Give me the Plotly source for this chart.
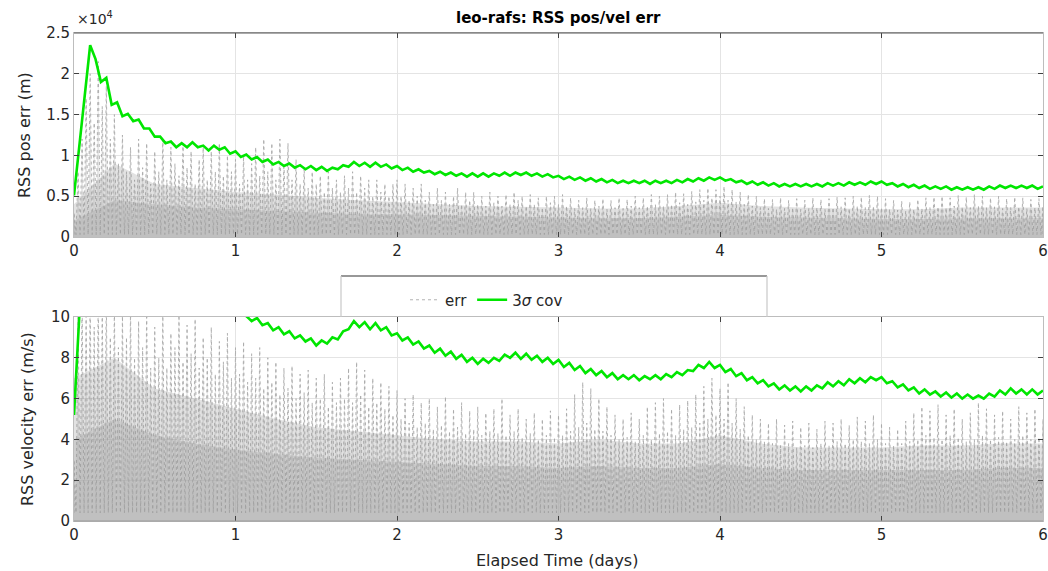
import numpy as np
import plotly.graph_objects as go

W, H = 1048, 571

# ---------------- data ----------------
cov_days_end = 6.0
# 3-sigma covariance, step 1/30 day
cov_pos = [5100, 11000, 17500, 23500, 21800, 19000, 19500, 16200, 16500, 14800,
           15100, 14200, 14400, 13300, 13300, 12300, 12300, 11500, 11700, 11000,
           11500, 11000, 11600, 11000, 11200, 10600, 11200, 10700, 11000, 10200,
           10500, 9800, 10100, 9500, 9800, 9200, 9500, 8900, 9200, 8700,
           9000, 8500, 8800, 8300, 8700, 8200, 8600, 8100, 8500, 8300,
           8800, 8600, 9200, 8700, 9100, 8600, 9100, 8600, 8900, 8400,
           8700, 8200, 8500, 8000, 8300, 7900, 8100, 7700, 8000, 7600,
           7900, 7500, 7800, 7400, 7800, 7400, 7800, 7400, 7800, 7500,
           7900, 7500, 7900, 7600, 7900, 7500, 7800, 7400, 7700, 7300,
           7500, 7100, 7400, 7000, 7300, 6900, 7200, 6800, 7100, 6700,
           7000, 6600, 6900, 6600, 6900, 6600, 6900, 6500, 6900, 6600,
           6900, 6600, 7000, 6700, 7100, 6800, 7200, 6900, 7300, 7000,
           7300, 6900, 7100, 6700, 6900, 6500, 6800, 6400, 6700, 6300,
           6600, 6200, 6500, 6200, 6500, 6200, 6500, 6200, 6500, 6200,
           6600, 6300, 6600, 6300, 6700, 6400, 6700, 6400, 6800, 6500,
           6800, 6400, 6600, 6200, 6500, 6100, 6400, 6000, 6300, 5900,
           6200, 5900, 6200, 5800, 6100, 5800, 6100, 5800, 6100, 5800,
           6200, 5900, 6300, 6000, 6300, 6000, 6300, 6000, 6300, 5900,
           6200]

cov_vel = [5.2, 12.0, 17.0, 20.0, 19.0, 18.5, 17.8, 17.0, 16.4, 15.8,
           15.2, 14.7, 14.2, 13.8, 13.4, 13.0, 12.7, 12.4, 12.1, 11.8,
           11.6, 11.4, 11.2, 11.0, 10.8, 10.7, 10.6, 10.5, 10.4, 10.3,
           10.2, 10.1, 10.05, 9.8, 9.95, 9.6, 9.7, 9.35, 9.5, 9.15,
           9.3, 8.95, 9.1, 8.8, 8.95, 8.6, 8.85, 8.7, 9.0, 8.9,
           9.3, 9.4, 9.8, 9.5, 9.75, 9.4, 9.7, 9.35, 9.5, 9.1,
           9.2, 8.85, 9.0, 8.65, 8.8, 8.45, 8.6, 8.25, 8.45, 8.1,
           8.3, 7.95, 8.15, 7.8, 8.0, 7.7, 7.95, 7.75, 8.0, 7.85,
           8.15, 8.0, 8.25, 7.95, 8.2, 7.9, 8.1, 7.8, 8.0, 7.7,
           7.9, 7.55, 7.75, 7.4, 7.6, 7.25, 7.45, 7.15, 7.35, 7.05,
           7.25, 6.95, 7.15, 6.95, 7.15, 6.9, 7.1, 6.95, 7.15, 6.95,
           7.2, 7.05, 7.3, 7.15, 7.4, 7.35, 7.65, 7.5, 7.8, 7.5,
           7.65, 7.3, 7.45, 7.1, 7.25, 6.9, 7.05, 6.75, 6.9, 6.6,
           6.75, 6.45, 6.65, 6.4, 6.6, 6.35, 6.6, 6.4, 6.65, 6.5,
           6.8, 6.6, 6.85, 6.65, 6.95, 6.75, 7.0, 6.8, 7.05, 6.9,
           7.05, 6.75, 6.85, 6.55, 6.7, 6.4, 6.55, 6.25, 6.45, 6.2,
           6.35, 6.1, 6.3, 6.05, 6.25, 6.0, 6.2, 6.0, 6.15, 6.0,
           6.25, 6.1, 6.4, 6.2, 6.5, 6.25, 6.45, 6.2, 6.45, 6.2,
           6.4]

# error spike peaks, step 0.025 day
err_pos_peaks = [3000, 8000, 12000, 17000, 20000, 14000, 21500, 16000, 18500, 12000, 15000, 9000, 12500, 8000, 11000, 7000, 12000, 8500, 11500, 6500,
                 10500, 8000, 12000, 7000, 11000, 9000, 7500, 11500, 8500, 10500, 6500, 9500, 11000, 7000, 10500, 8000, 11500, 7500, 10000, 8000,
                 9500, 6500, 10000, 7000, 9000, 11000, 7500, 12000, 8000, 11500, 7000, 12000, 9000, 11500, 7000, 9500, 6500, 8500, 6000, 8000,
                 6500, 7500, 5500, 8000, 6000, 7000, 5500, 7500, 6000, 8000, 5500, 7500, 6000, 7000, 5000, 7000, 5500, 6500, 5000, 6500,
                 7000, 5000, 6500, 4500, 6000, 5000, 6500, 4500, 5500, 4000, 6000, 4500, 5500, 4000, 5000, 6000, 4000, 5500, 4500, 5500,
                 4000, 5000, 3800, 5500, 4200, 5000, 3800, 5200, 4000, 5500, 4500, 5000, 3800, 5200, 4000, 4800, 3600, 5000, 4200, 5000,
                 4000, 5200, 3800, 4800, 3500, 4500, 3600, 4800, 3500, 4500, 3800, 4700, 3400, 4500, 3600, 4800, 3500, 4600, 3800, 5000,
                 3600, 4800, 3800, 5200, 4000, 5000, 3800, 5200, 4000, 5500, 4200, 5300, 4000, 5600, 4300, 5800, 4500, 6000, 4800, 5800,
                 5000, 6200, 4500, 5800, 4300, 5500, 4000, 5200, 3800, 5000, 3600, 4700, 3500, 4600, 3400, 4800, 3500, 4500, 3600, 4700,
                 3400, 4500, 3500, 4800, 3600, 4600, 3400, 4700, 3600, 4900, 3700, 4800, 3500, 5000, 3800, 4900, 3600, 5100, 3800, 5000,
                 3600, 4700, 3400, 4500, 3300, 4400, 3200, 4300, 3400, 4600, 3500, 4800, 3600, 4900, 3700, 5000, 3600, 4800, 3800, 5100,
                 3700, 4900, 3600, 5200, 3800, 5000, 3600, 4800, 3700, 5000, 3500, 4700, 3600, 4900, 3700, 4800, 3500, 4600, 3600, 4700,
                 3800]

err_vel_peaks = [3.0, 10.5, 11.0, 10.2, 11.0, 9.5, 11.0, 10.3, 11.0, 9.0, 10.5, 8.5, 10.2, 9.0, 10.4, 8.0, 9.8, 8.5, 10.3, 7.5,
                 9.5, 8.0, 10.2, 7.5, 9.2, 8.5, 10.1, 7.8, 9.6, 8.2, 9.9, 7.5, 9.0, 8.0, 9.5, 7.2, 8.8, 7.8, 9.2, 7.0,
                 8.5, 7.2, 8.8, 6.8, 8.2, 7.0, 8.5, 6.5, 8.0, 6.8, 7.8, 6.2, 7.5, 6.5, 7.6, 6.0, 7.2, 6.3, 7.4, 5.8,
                 7.0, 6.0, 7.2, 5.6, 6.8, 5.8, 7.0, 6.0, 7.5, 5.8, 7.8, 6.2, 7.4, 5.6, 7.0, 5.8, 6.8, 5.5, 6.6, 5.2,
                 6.4, 5.0, 6.0, 4.8, 6.2, 4.6, 5.8, 4.8, 6.0, 4.5, 5.6, 4.7, 6.1, 4.4, 5.5, 4.6, 5.8, 4.3, 5.4, 4.5,
                 5.6, 4.2, 5.3, 4.4, 5.5, 4.3, 6.0, 4.2, 5.2, 4.4, 5.5, 4.1, 5.0, 4.3, 5.3, 4.0, 5.0, 4.2, 5.4, 4.1,
                 5.2, 4.2, 5.5, 4.4, 6.2, 4.6, 6.8, 4.8, 6.5, 4.5, 6.0, 4.4, 5.6, 4.2, 5.2, 4.0, 5.0, 4.1, 5.3, 3.9,
                 5.0, 4.2, 5.6, 4.0, 5.8, 4.3, 6.0, 4.4, 5.5, 4.2, 5.7, 4.5, 5.9, 4.6, 6.2, 4.8, 6.6, 5.0, 7.0, 5.2,
                 6.5, 5.0, 6.8, 4.8, 6.0, 4.5, 5.6, 4.2, 5.2, 4.0, 5.0, 3.9, 4.8, 3.8, 5.0, 3.7, 4.7, 3.8, 4.9, 3.6,
                 4.6, 3.7, 4.8, 3.6, 4.5, 3.8, 4.9, 3.7, 4.8, 3.9, 5.0, 3.8, 4.7, 4.0, 5.1, 3.9, 4.9, 3.8, 5.2, 4.0,
                 4.8, 3.8, 4.6, 3.7, 4.5, 3.8, 4.9, 3.9, 5.3, 4.0, 5.6, 4.2, 5.4, 4.1, 5.7, 4.0, 5.2, 4.2, 5.5, 4.1,
                 5.0, 3.9, 5.3, 4.0, 5.8, 4.2, 5.5, 4.0, 5.2, 4.1, 5.4, 3.9, 5.0, 4.0, 5.6, 4.2, 5.3, 4.0, 5.5, 4.1,
                 5.0]

# density bands of the error cloud (dense core, medium), step 0.25 day
err_pos_core = [2000, 4500, 4000, 3600, 3400, 3200, 3000, 2800, 2800, 2700, 2600, 2500, 2400,
                2300, 2300, 2500, 2700, 2500, 2400, 2300, 2200, 2200, 2300, 2300, 2300]
err_pos_mid = [4000, 9000, 6500, 6000, 5500, 5200, 4800, 4500, 4300, 4000, 3800, 3700, 3600,
               3500, 3500, 3800, 4200, 3800, 3600, 3500, 3400, 3400, 3600, 3600, 3600]
err_vel_core = [4.0, 5.0, 4.2, 3.8, 3.5, 3.3, 3.1, 3.0, 2.9, 2.8, 2.7, 2.7, 2.6,
                2.7, 2.6, 2.6, 2.8, 2.6, 2.5, 2.5, 2.5, 2.5, 2.5, 2.6, 2.6]
err_vel_mid = [7.0, 8.0, 6.5, 6.0, 5.5, 5.0, 4.6, 4.4, 4.2, 4.0, 3.9, 3.9, 3.8,
               4.0, 3.8, 3.8, 4.2, 3.8, 3.6, 3.6, 3.6, 3.7, 3.7, 3.8, 3.8]
err_pos_floor = 300
err_vel_floor = 0.4

x_ticks = [0, 1, 2, 3, 4, 5, 6]
pos_ticks = [0, 5000, 10000, 15000, 20000, 25000]
pos_ticktext = ["0", "0.5", "1", "1.5", "2", "2.5"]
vel_ticks = [0, 2, 4, 6, 8, 10]

# ---------------- helpers ----------------
def px_x(x):
    return x / W

def px_y(y):
    return 1 - y / H

t_cov = np.linspace(0, cov_days_end, len(cov_pos))
t_peak = np.linspace(0, cov_days_end, len(err_pos_peaks))
t_band = np.linspace(0, cov_days_end, len(err_pos_core))
half = (t_peak[1] - t_peak[0]) / 2


def zigzag(peaks, floor):
    xs, ys = [], []
    for t, p in zip(t_peak, peaks):
        xs += [max(t - half, 0), t]
        ys += [floor, p]
    xs.append(cov_days_end)
    ys.append(floor)
    return xs, ys


GRAY = "#a9a9a9"
GREEN = "#00e600"
FONT = "DejaVu Sans"
TXT = "#262626"
BAND = "rgba(150,150,150,0.28)"
ERR_LINE = dict(color=GRAY, width=0.9, dash="dot")

fig = go.Figure()

for (peaks, bands, floor, cov, xa, ya, show) in [
    (err_pos_peaks, [err_pos_mid, err_pos_core], err_pos_floor, cov_pos, "x", "y", False),
    (err_vel_peaks, [err_vel_mid, err_vel_core], err_vel_floor, cov_vel, "x2", "y2", True),
]:
    zx, zy = zigzag(peaks, floor)
    fig.add_trace(go.Scatter(x=zx, y=zy, mode="lines", name="err", fill="tozeroy",
                             fillcolor="rgba(200,200,200,0.45)", line=ERR_LINE,
                             showlegend=False, xaxis=xa, yaxis=ya))
    for band in bands:
        fig.add_trace(go.Scatter(x=t_band, y=band, mode="none", fill="tozeroy",
                                 fillcolor=BAND, hoverinfo="skip",
                                 showlegend=False, xaxis=xa, yaxis=ya))
    if show:
        # legend entry for the error traces (dotted line, no fill)
        fig.add_trace(go.Scatter(x=[None], y=[None], mode="lines", name="err",
                                 line=ERR_LINE, showlegend=True, xaxis=xa, yaxis=ya))
    fig.add_trace(go.Scatter(x=t_cov, y=cov, mode="lines", name="3<i>σ</i> cov",
                             line=dict(color=GREEN, width=2.6),
                             showlegend=show, xaxis=xa, yaxis=ya))

x_dom = [px_x(74), px_x(1043)]
axis_common = dict(showgrid=True, gridcolor="#e4e4e4", gridwidth=1, zeroline=False,
                   showline=True, linecolor="#bdbdbd", linewidth=1, mirror="ticks",
                   ticks="inside", ticklen=5, tickcolor="#404040", automargin=False,
                   tickfont=dict(family=FONT, size=15, color=TXT))

fig.update_layout(
    width=W, height=H, margin=dict(l=0, r=0, t=0, b=0, autoexpand=False),
    paper_bgcolor="white", plot_bgcolor="white",
    font=dict(family=FONT, size=14, color=TXT),
    xaxis=dict(domain=x_dom, range=[0, 6], tickvals=x_ticks, anchor="y", **axis_common),
    yaxis=dict(domain=[px_y(237), px_y(33)], range=[0, 25000], tickvals=pos_ticks,
               ticktext=pos_ticktext, anchor="x", **axis_common),
    xaxis2=dict(domain=x_dom, range=[0, 6], tickvals=x_ticks, anchor="y2", **axis_common),
    yaxis2=dict(domain=[px_y(521), px_y(317)], range=[0, 10], tickvals=vel_ticks,
                anchor="x2", **axis_common),
    legend=dict(orientation="h", x=px_x(405), y=px_y(300), xanchor="left", yanchor="middle",
                bgcolor="rgba(0,0,0,0)", font=dict(family=FONT, size=15, color=TXT),
                itemwidth=30, tracegroupgap=0, traceorder="normal"),
    showlegend=True,
)

shapes = [
    dict(type="line", xref="paper", yref="paper", x0=px_x(74), x1=px_x(1043),
         y0=px_y(33), y1=px_y(33), line=dict(color="#555555", width=1.2)),
    dict(type="line", xref="paper", yref="paper", x0=px_x(74), x1=px_x(1043),
         y0=px_y(521), y1=px_y(521), line=dict(color="#9a9a9a", width=1.2)),
    dict(type="line", xref="paper", yref="paper", x0=px_x(341), x1=px_x(767),
         y0=px_y(276), y1=px_y(276), line=dict(color="#333333", width=1.2)),
    dict(type="line", xref="paper", yref="paper", x0=px_x(341), x1=px_x(341),
         y0=px_y(276), y1=px_y(317), line=dict(color="#c8c8c8", width=1.2)),
    dict(type="line", xref="paper", yref="paper", x0=px_x(767), x1=px_x(767),
         y0=px_y(276), y1=px_y(317), line=dict(color="#c8c8c8", width=1.2)),
]
fig.update_layout(shapes=shapes)

annotations = [
    dict(text="<b>leo-rafs: RSS pos/vel err</b>", x=px_x(558), y=px_y(18),
         font=dict(family=FONT, size=15, color="#000000")),
    dict(text="×10<sup>4</sup>", x=px_x(75), y=px_y(18), xanchor="left",
         font=dict(family=FONT, size=14, color=TXT)),
    dict(text="RSS pos err (m)", x=px_x(25), y=px_y(135), textangle=-90,
         font=dict(family=FONT, size=16, color=TXT)),
    dict(text="RSS velocity err (m/s)", x=px_x(27), y=px_y(419), textangle=-90,
         font=dict(family=FONT, size=16, color=TXT)),
    dict(text="Elapsed Time (days)", x=px_x(557), y=px_y(560),
         font=dict(family=FONT, size=16, color=TXT)),
]
for a in annotations:
    a.update(xref="paper", yref="paper", showarrow=False)
    a.setdefault("xanchor", "center")
    a.setdefault("yanchor", "middle")
fig.update_layout(annotations=annotations)

fig.write_html("out.html")
